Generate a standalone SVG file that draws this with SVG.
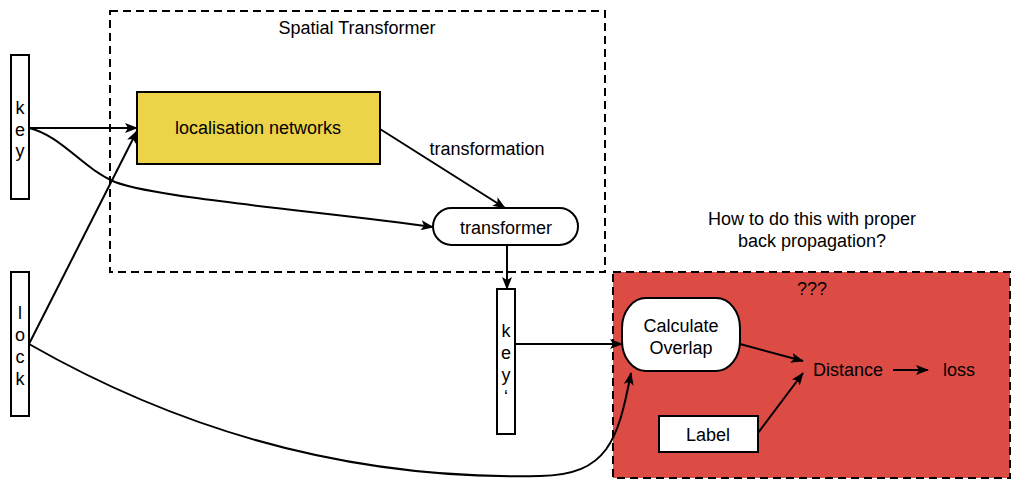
<svg xmlns="http://www.w3.org/2000/svg" width="1021" height="494" viewBox="0 0 1021 494">
<defs>
<marker id="arr" viewBox="0 0 13 10" refX="12" refY="5" markerWidth="13" markerHeight="10" markerUnits="userSpaceOnUse" orient="auto">
<path d="M0,0 L13,5 L0,10 L3,5 Z" fill="#000"/>
</marker>
</defs>
<style>
text{font-family:"Liberation Sans",Arial,Helvetica,sans-serif;font-size:18px;fill:#000;text-anchor:middle}
.box{stroke:#000;stroke-width:2;fill:#fff}
.dash{stroke:#000;stroke-width:2;stroke-dasharray:8 5}
.edge{fill:none;stroke:#000;stroke-width:2;marker-end:url(#arr)}
</style>
<rect fill="#fff" x="0" y="0" width="1021" height="494"/>

<g id="spatial-transformer">
<rect class="dash" x="110" y="11" width="495" height="261" fill="none"/>
<text x="357" y="34">Spatial Transformer</text>
</g>

<g id="question-box">
<rect class="dash" x="613" y="272" width="397" height="206" fill="#DD4B45"/>
<text x="812" y="295">???</text>
</g>

<g id="question-text">
<text x="812" y="225">How to do this with proper</text>
<text x="812" y="247">back propagation?</text>
</g>

<g id="key">
<rect class="box" x="11" y="55" width="18" height="144"/>
<text x="20" y="114">k</text>
<text x="20" y="136">e</text>
<text x="20" y="157">y</text>
</g>

<g id="lock">
<rect class="box" x="11" y="272" width="18" height="144"/>
<text x="20" y="319">l</text>
<text x="20" y="341">o</text>
<text x="20" y="363">c</text>
<text x="20" y="385">k</text>
</g>

<g id="localisation-networks">
<rect x="137" y="92" width="243" height="72" fill="#EDD348" stroke="#000" stroke-width="2"/>
<text x="258" y="134">localisation networks</text>
</g>

<g id="transformer">
<rect class="box" x="433" y="208" width="145" height="37" rx="18.5" ry="18.5"/>
<text x="506" y="234">transformer</text>
</g>

<g id="key-prime">
<rect class="box" x="497" y="289" width="18" height="145"/>
<text x="506" y="337">k</text>
<text x="506" y="359">e</text>
<text x="506" y="381">y</text>
<text x="506" y="403">‘</text>
</g>

<g id="calculate-overlap">
<rect class="box" x="622" y="298" width="118" height="73" rx="24" ry="30"/>
<text x="681" y="332">Calculate</text>
<text x="681" y="354">Overlap</text>
</g>

<g id="label">
<rect class="box" x="659" y="416" width="99" height="36"/>
<text x="708" y="441">Label</text>
</g>

<g id="distance">
<text x="848" y="376">Distance</text>
</g>

<g id="loss">
<text x="959" y="376">loss</text>
</g>

<g id="connectors">
<path class="edge" d="M29,128 L137,128"/>
<path class="edge" d="M29,344 L137,131"/>
<path class="edge" d="M29,128 C62,136 82,168 115,182 C160,199 330,212 433,227"/>
<path class="edge" d="M380,129 L505,208"/>
<path class="edge" d="M507,245 L507,289"/>
<path class="edge" d="M515,344 L622,344"/>
<path class="edge" d="M29,344 C190,436 360,480 540,476 C608,475 618,440 631,373"/>
<path class="edge" d="M740,344 L803,361"/>
<path class="edge" d="M758,433 L803,373"/>
<path class="edge" d="M893,370 L928,370"/>
<text x="487" y="155">transformation</text>
</g>
</svg>
